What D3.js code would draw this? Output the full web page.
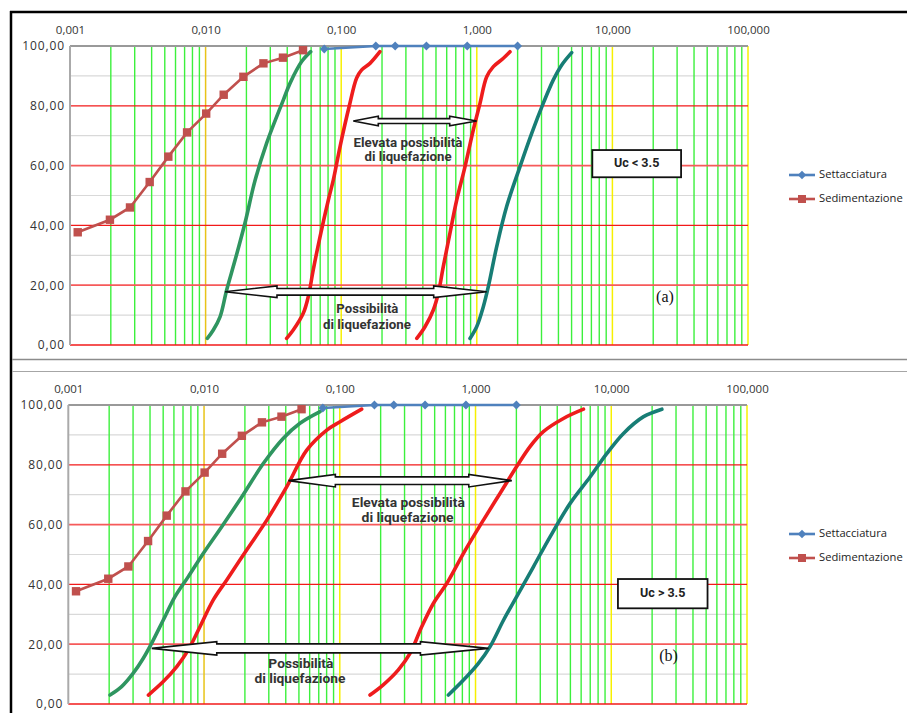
<!DOCTYPE html>
<html>
<head>
<meta charset="utf-8">
<script src="https://cdn.jsdelivr.net/npm/d3@7"></script>
<style>
  body { margin: 0; background: #fff; }
  svg text { font-family: "Open Sans", "DejaVu Sans", sans-serif; }
</style>
</head>
<body>
<div id="chart"></div>
<script>
// ---- data ----
var xTicks = [0.001, 0.01, 0.1, 1, 10, 100];
var xTickLabels = ["0,001", "0,010", "0,100", "1,000", "10,000", "100,000"];
var yTicks = [0, 20, 40, 60, 80, 100];
var yTickLabels = ["0,00", "20,00", "40,00", "60,00", "80,00", "100,00"];
var yMinor = [10, 30, 50, 70, 90];

var seriesNames = ["Settacciatura", "Sedimentazione"];

// sieve analysis (blue diamonds)
var sieveDiam = [0.075, 0.18, 0.25, 0.425, 0.85, 2.0];
var sievePass = [99.0, 100, 100, 100, 100, 100];

// sedimentation (brown squares)
var sedimDiam = [0.00114, 0.00197, 0.00277, 0.00387, 0.00531, 0.0073, 0.0101, 0.0136, 0.019, 0.0267, 0.0372, 0.0523];
var sedimPass = [37.7, 41.9, 46.0, 54.5, 63.0, 71.1, 77.4, 83.7, 89.7, 94.2, 96.1, 98.6];

// envelope curves, panel (a) Uc < 3.5
var aGreenDiam = [0.0103, 0.0114, 0.0128, 0.0143, 0.0165, 0.0195, 0.0232, 0.0282, 0.0374, 0.0419, 0.0511, 0.0596];
var aGreenPass = [2.2, 5.0, 9.5, 18.4, 28.4, 40.7, 55.2, 67.5, 81.9, 87.5, 94.8, 98.1];
var aRed1Diam = [0.0396, 0.0443, 0.0525, 0.0572, 0.0622, 0.0698, 0.0804, 0.0875, 0.098, 0.1148, 0.13, 0.1416, 0.163, 0.193];
var aRed1Pass = [2.2, 5.0, 10.6, 16.2, 25.1, 36.2, 48.5, 55.2, 66.3, 80.0, 89.3, 92.0, 94.2, 98.1];
var aRed2Diam = [0.361, 0.415, 0.478, 0.52, 0.566, 0.634, 0.711, 0.818, 0.942, 1.056, 1.183, 1.325, 1.57, 1.757];
var aRed2Pass = [2.2, 6.1, 11.7, 17.3, 26.2, 37.4, 48.5, 59.6, 71.9, 80.8, 89.7, 93.1, 95.9, 98.1];
var aTealDiam = [0.891, 0.998, 1.117, 1.216, 1.402, 1.66, 2.08, 2.54, 3.09, 3.66, 4.22, 5.01];
var aTealPass = [2.2, 6.1, 12.8, 19.5, 32.9, 46.3, 59.6, 70.8, 80.8, 88.6, 93.6, 97.8];

// envelope curves, panel (b) Uc > 3.5
var bGreenDiam = [0.00203, 0.00247, 0.00301, 0.00357, 0.00411, 0.00501, 0.00611, 0.00766, 0.00989, 0.0135, 0.019, 0.0274, 0.0384, 0.0509, 0.0716];
var bGreenPass = [3.0, 5.8, 10.3, 15.3, 20.3, 28.1, 35.9, 42.6, 50.4, 59.3, 69.3, 80.5, 88.9, 93.9, 97.8];
var bRed1Diam = [0.00389, 0.00501, 0.0063, 0.00766, 0.00935, 0.0117, 0.0147, 0.0206, 0.029, 0.0407, 0.0571, 0.0802, 0.1005, 0.145];
var bRed1Pass = [3.0, 7.5, 12.5, 18.1, 25.9, 34.8, 41.5, 51.5, 61.5, 72.7, 84.9, 91.6, 94.4, 98.6];
var bRed2Diam = [0.167, 0.209, 0.27, 0.33, 0.402, 0.49, 0.615, 0.815, 1.143, 1.518, 2.01, 2.52, 3.16, 4.44, 6.24];
var bRed2Pass = [3.0, 6.4, 11.4, 17.0, 25.9, 33.7, 40.4, 50.4, 61.5, 70.5, 79.4, 86.1, 91.1, 95.5, 98.6];
var bTealDiam = [0.631, 0.815, 1.05, 1.28, 1.61, 2.01, 2.67, 3.55, 4.98, 7.0, 9.29, 12.3, 17.3, 23.6];
var bTealPass = [3.0, 8.0, 13.6, 19.2, 28.1, 35.9, 45.9, 56.0, 67.1, 76.0, 83.8, 90.5, 96.1, 98.6];

// annotation anchors [left tip diameter, right tip diameter, % passing]
var aArrows = [[0.1228, 0.998, 74.9], [0.0139, 1.183, 17.8]];
var bArrows = [[0.0418, 1.85, 74.7], [0.00412, 1.245, 18.6]];

var svgWidth = 907, svgHeight = 713;

var svg = d3.select("#chart").append("svg")
  .attr("width", svgWidth)
  .attr("height", svgHeight);

// page frame of the screenshot
svg.append("line").attr("x1", 10).attr("x2", svgWidth).attr("y1", 12).attr("y2", 12)
  .attr("stroke", "#000").attr("stroke-width", 2.5);
svg.append("line").attr("x1", 11).attr("x2", 11).attr("y1", 11).attr("y2", svgHeight)
  .attr("stroke", "#000").attr("stroke-width", 2.5);
svg.append("line").attr("x1", 12).attr("x2", svgWidth).attr("y1", 359.5).attr("y2", 359.5)
  .attr("stroke", "#8c8c8c").attr("stroke-width", 1.5);
svg.append("line").attr("x1", 12).attr("x2", svgWidth).attr("y1", 371.5).attr("y2", 371.5)
  .attr("stroke", "#a6a6a6").attr("stroke-width", 1);

function zip(a, b) { return a.map(function(d, i) { return [d, b[i]]; }); }

// minor log gridlines 2..9 per decade
var minorX = [];
for (var e = -3; e < 2; e++) {
  for (var m = 2; m <= 9; m++) minorX.push(m * Math.pow(10, e));
}

function drawPanel(p) {
  var x = d3.scaleLog().domain([0.001, 100]).range([p.left, p.right]);
  var y = d3.scaleLinear().domain([0, 100]).range([p.bottom, p.top]);
  var g = svg.append("g");

  // light gray minor horizontals
  g.selectAll(".hminor").data(yMinor).enter().append("line")
    .attr("x1", x(0.001)).attr("x2", x(100))
    .attr("y1", d => y(d)).attr("y2", d => y(d))
    .attr("stroke", "#d9d9d9").attr("stroke-width", 1.2);

  // green verticals
  g.selectAll(".vgreen").data(minorX).enter().append("line")
    .attr("x1", d => x(d)).attr("x2", d => x(d))
    .attr("y1", y(0)).attr("y2", y(100))
    .attr("stroke", "#3cf03c").attr("stroke-width", 1.4);

  // yellow decade lines
  g.selectAll(".vyellow").data(xTicks.slice(1)).enter().append("line")
    .attr("x1", d => x(d)).attr("x2", d => x(d))
    .attr("y1", y(0)).attr("y2", y(100))
    .attr("stroke", d => d === 0.01 ? "#e8c417" : "#f7f000").attr("stroke-width", 1.5);

  // red major horizontals
  g.selectAll(".hmajor").data(yTicks.slice(0, 5)).enter().append("line")
    .attr("x1", x(0.001)).attr("x2", x(100))
    .attr("y1", d => y(d)).attr("y2", d => y(d))
    .attr("stroke", d => (d === 20 || d === 60) ? "#f65a5a" : "#f21a1a")
    .attr("stroke-width", d => (d === 20 || d === 60) ? 1.8 : 1.3);

  // axes frame
  g.append("line").attr("x1", x(0.001)).attr("x2", x(100)).attr("y1", y(100)).attr("y2", y(100))
    .attr("stroke", "#999").attr("stroke-width", 2);
  g.append("line").attr("x1", x(0.001)).attr("x2", x(0.001)).attr("y1", y(100)).attr("y2", y(0))
    .attr("stroke", "#aaa").attr("stroke-width", 2);

  // top x axis labels
  var xAxis = d3.axisTop(x).tickValues(xTicks)
    .tickFormat((d, i) => xTickLabels[i]).tickSize(0).tickPadding(12);
  var xg = g.append("g").attr("transform", `translate(0, ${y(100)})`).call(xAxis);
  xg.select(".domain").remove();
  xg.selectAll("text").attr("font-size", 11.5).attr("fill", "#333")
    .style("font-family", '"Open Sans", sans-serif');

  // left y axis labels
  var yAxis = d3.axisLeft(y).tickValues(yTicks)
    .tickFormat((d, i) => yTickLabels[i]).tickSize(0).tickPadding(5);
  var yg = g.append("g").attr("transform", `translate(${x(0.001)}, 0)`).call(yAxis);
  yg.select(".domain").remove();
  yg.selectAll("text").attr("font-size", 12).attr("fill", "#333")
    .attr("letter-spacing", 0.9)
    .style("font-family", '"Open Sans", sans-serif');

  // envelope curves
  var line = d3.line().x(d => x(d[0])).y(d => y(d[1])).curve(d3.curveCatmullRom.alpha(0.5));
  p.curves.forEach(function(c) {
    g.append("path").datum(c.data)
      .attr("d", line)
      .attr("fill", "none")
      .attr("stroke", c.color)
      .attr("stroke-width", 3.6)
      .attr("stroke-linecap", "round");
  });

  // sedimentation series
  var straight = d3.line().x(d => x(d[0])).y(d => y(d[1]));
  var sedim = zip(sedimDiam, sedimPass);
  g.append("path").datum(sedim).attr("d", straight)
    .attr("fill", "none").attr("stroke", "#c0504d").attr("stroke-width", 2.6);
  g.selectAll(".sq").data(sedim).enter().append("rect")
    .attr("x", d => x(d[0]) - 4.2).attr("y", d => y(d[1]) - 4.2)
    .attr("width", 8.4).attr("height", 8.4)
    .attr("fill", "#c0504d");

  // sieve series
  var sieve = zip(sieveDiam, sievePass);
  g.append("path").datum(sieve).attr("d", straight)
    .attr("fill", "none").attr("stroke", "#4f81bd").attr("stroke-width", 2.6);
  g.selectAll(".dm").data(sieve).enter().append("path")
    .attr("d", d3.symbol(d3.symbolDiamond2, 50))
    .attr("transform", d => `translate(${x(d[0])}, ${y(d[1])})`)
    .attr("fill", "#4f81bd");

  // double-headed hollow arrows
  p.arrows.forEach(function(a, i) {
    var s = p.arrowStyle[i];
    var xl = x(a[0]), xr = x(a[1]), yc = y(a[2]);
    var pts = [
      [xl, yc], [xl + s.hl, yc - s.hh], [xl + s.hl, yc - s.sh],
      [xr - s.hr, yc - s.sh], [xr - s.hr, yc - s.hh], [xr, yc],
      [xr - s.hr, yc + s.hh], [xr - s.hr, yc + s.sh],
      [xl + s.hl, yc + s.sh], [xl + s.hl, yc + s.hh]
    ];
    g.append("polygon")
      .attr("points", pts.map(q => q.join(",")).join(" "))
      .attr("fill", "#fff").attr("stroke", "#111").attr("stroke-width", 1.6)
      .attr("stroke-linejoin", "miter");
  });

  // annotation texts
  p.notes.forEach(function(n) {
    g.append("text")
      .attr("x", x(n.d)).attr("y", y(n.p))
      .attr("text-anchor", "middle")
      .attr("dominant-baseline", "middle")
      .attr("font-size", 12.5).attr("font-weight", "bold")
      .attr("fill", "#333")
      .attr("textLength", n.w).attr("lengthAdjust", "spacingAndGlyphs")
      .style("font-family", "Roboto, sans-serif")
      .text(n.t);
  });

  // Uc box
  g.append("rect")
    .attr("x", x(p.box[0])).attr("y", y(p.box[3]))
    .attr("width", x(p.box[1]) - x(p.box[0])).attr("height", y(p.box[2]) - y(p.box[3]))
    .attr("fill", "#fff").attr("stroke", "#111").attr("stroke-width", 1.8);
  g.append("text")
    .attr("x", (x(p.box[0]) + x(p.box[1])) / 2).attr("y", (y(p.box[2]) + y(p.box[3])) / 2)
    .attr("text-anchor", "middle").attr("dominant-baseline", "middle")
    .attr("font-size", 12.5).attr("font-weight", "bold").attr("fill", "#222")
    .style("font-family", "Roboto, sans-serif")
    .text(p.uc);

  // panel letter
  g.append("text")
    .attr("x", x(p.letterPos[0])).attr("y", y(p.letterPos[1]))
    .attr("text-anchor", "middle").attr("dominant-baseline", "middle")
    .attr("font-size", 16).attr("fill", "#111")
    .style("font-family", '"Liberation Serif", "DejaVu Serif", serif')
    .text(p.letter);

  // legend
  var leg = g.append("g");
  var legY = [p.top + 129, p.top + 153];
  var legColor = ["#4f81bd", "#c0504d"];
  seriesNames.forEach(function(name, i) {
    leg.append("line").attr("x1", 789).attr("x2", 815).attr("y1", legY[i]).attr("y2", legY[i])
      .attr("stroke", legColor[i]).attr("stroke-width", 2.6);
    if (i === 0) {
      leg.append("path").attr("d", d3.symbol(d3.symbolDiamond2, 45))
        .attr("transform", `translate(802, ${legY[i]})`).attr("fill", legColor[i]);
    } else {
      leg.append("rect").attr("x", 798).attr("y", legY[i] - 4).attr("width", 8).attr("height", 8)
        .attr("fill", legColor[i]);
    }
    leg.append("text").attr("x", 819).attr("y", legY[i])
      .attr("dominant-baseline", "middle")
      .attr("font-size", 11.2).attr("fill", "#222")
      .text(name);
  });
}

drawPanel({
  left: 70, right: 748, top: 46, bottom: 345,
  curves: [
    { data: zip(aGreenDiam, aGreenPass), color: "#2f9560" },
    { data: zip(aRed1Diam, aRed1Pass), color: "#ee1c1c" },
    { data: zip(aRed2Diam, aRed2Pass), color: "#ee1c1c" },
    { data: zip(aTealDiam, aTealPass), color: "#177d75" }
  ],
  arrows: aArrows,
  arrowStyle: [
    { hl: 25, hr: 27, hh: 4.8, sh: 2.4 },
    { hl: 52, hr: 53, hh: 5.8, sh: 3.3 }
  ],
  notes: [
    { t: "Elevata possibilità", d: 0.311, p: 67.2, w: 109 },
    { t: "di liquefazione", d: 0.311, p: 62.5, w: 87 },
    { t: "Possibilità", d: 0.156, p: 11.7, w: 62 },
    { t: "di liquefazione", d: 0.155, p: 6.5, w: 88 }
  ],
  box: [7.11, 32.1, 56.1, 65.2],
  uc: "Uc < 3.5",
  letter: "(a)", letterPos: [24.4, 15.6]
});

drawPanel({
  left: 68.3, right: 747, top: 405, bottom: 704,
  curves: [
    { data: zip(bGreenDiam, bGreenPass), color: "#2f9560" },
    { data: zip(bRed1Diam, bRed1Pass), color: "#ee1c1c" },
    { data: zip(bRed2Diam, bRed2Pass), color: "#ee1c1c" },
    { data: zip(bTealDiam, bTealPass), color: "#177d75" }
  ],
  arrows: bArrows,
  arrowStyle: [
    { hl: 47, hr: 43, hh: 6.3, sh: 3.8 },
    { hl: 65, hr: 68, hh: 6.7, sh: 4.5 }
  ],
  notes: [
    { t: "Elevata possibilità", d: 0.32, p: 66.9, w: 113 },
    { t: "di liquefazione", d: 0.316, p: 61.9, w: 92 },
    { t: "Possibilità", d: 0.0517, p: 13.0, w: 65 },
    { t: "di liquefazione", d: 0.0509, p: 8.0, w: 91 }
  ],
  box: [11.2, 51.2, 32.0, 41.8],
  uc: "Uc > 3.5",
  letter: "(b)", letterPos: [26.4, 15.6]
});
</script>
</body>
</html>
